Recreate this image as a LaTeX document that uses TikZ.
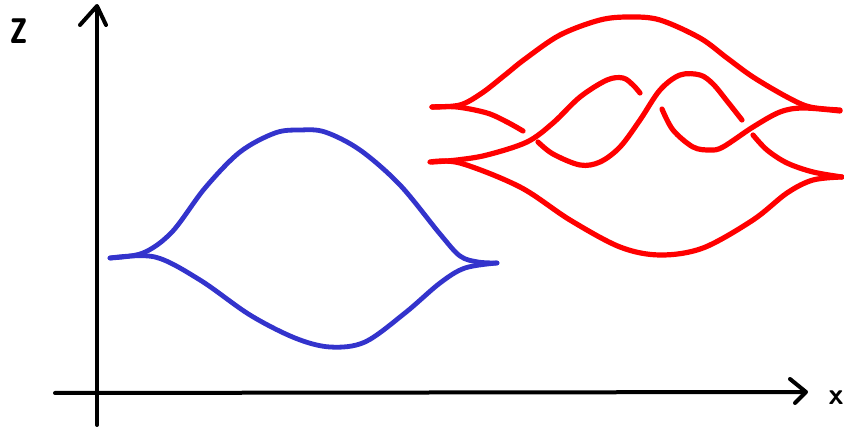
\documentclass[tikz,border=0pt]{standalone}
\begin{document}
\begin{tikzpicture}[x=1pt,y=-1pt,
  axis/.style={line width=4pt,black,line cap=round,line join=round},
  bluecurve/.style={line width=4.8pt,draw={rgb,255:red,51;green,51;blue,204},line cap=round,line join=round},
  redcurve/.style={line width=5.2pt,draw={rgb,255:red,255;green,0;blue,0},line cap=round,line join=round},
  lbl/.style={font=\fontsize{30}{30}\selectfont\sffamily\bfseries,inner sep=0pt}]
\useasboundingbox (0,0) rectangle (844,430);
% axes
\draw[axis] (97,425) -- (97,7);
\draw[axis] (80,25) -- (97,6) -- (106,25);
\draw[axis] (55,393) -- (804,392);
\draw[axis] (790,379) -- (806,392) -- (795,403);
\node[lbl,font=\fontsize{36}{36}\selectfont\sffamily\bfseries,yscale=1.5] (zlab) at (19,31) {z};
\node[lbl] (xlab) at (836,398) {x};
% blue curve
\draw[bluecurve] plot[smooth,tension=0.55] coordinates {(110,258) (143,253) (172,232) (205,188) (240,152) (275,133) (300,130) (325,132) (360,150) (400,185) (440,234) (460,256) (478,262) (497,263)};
\draw[bluecurve] plot[smooth,tension=0.55] coordinates {(110,258) (155,257) (200,280) (250,315) (295,338) (330,347) (365,342) (405,313) (440,283) (465,268) (497,263)};
% red strands
\draw[redcurve] plot[smooth,tension=0.55] coordinates {(432,107) (460,105) (482,93) (505,75) (525,59) (560,35) (600,20) (630,17) (660,20) (700,38) (727,58) (753,77) (787,97) (810,107) (840,110)};
\draw[redcurve] plot[smooth,tension=0.55] coordinates {(430,162) (460,163) (520,187) (570,220) (620,247) (660,255) (703,248) (753,220) (787,193) (813,180) (842,177)};
% strand B
\draw[redcurve] plot[smooth,tension=0.55] coordinates {(432,107) (457,107) (487,113) (507,122) (523,131)};
\draw[redcurve] plot[smooth,tension=0.55] coordinates {(538,142) (553,154) (580,165) (600,162) (620,147) (640,120) (660,90) (680,75) (700,75) (713,84) (727,101) (742,120)};
\draw[redcurve] plot[smooth,tension=0.55] coordinates {(753,135) (767,150) (787,163) (813,172) (842,177)};
% strand C
\draw[redcurve] plot[smooth,tension=0.55] coordinates {(432,162) (457,160) (487,155) (527,142) (553,123) (580,97) (607,80) (623,78) (633,85) (640,93)};
\draw[redcurve] plot[smooth,tension=0.55] coordinates {(662,109) (673,130) (693,147) (710,150) (723,147) (753,127) (780,112) (803,108) (840,111)};
\end{tikzpicture}
\end{document}
